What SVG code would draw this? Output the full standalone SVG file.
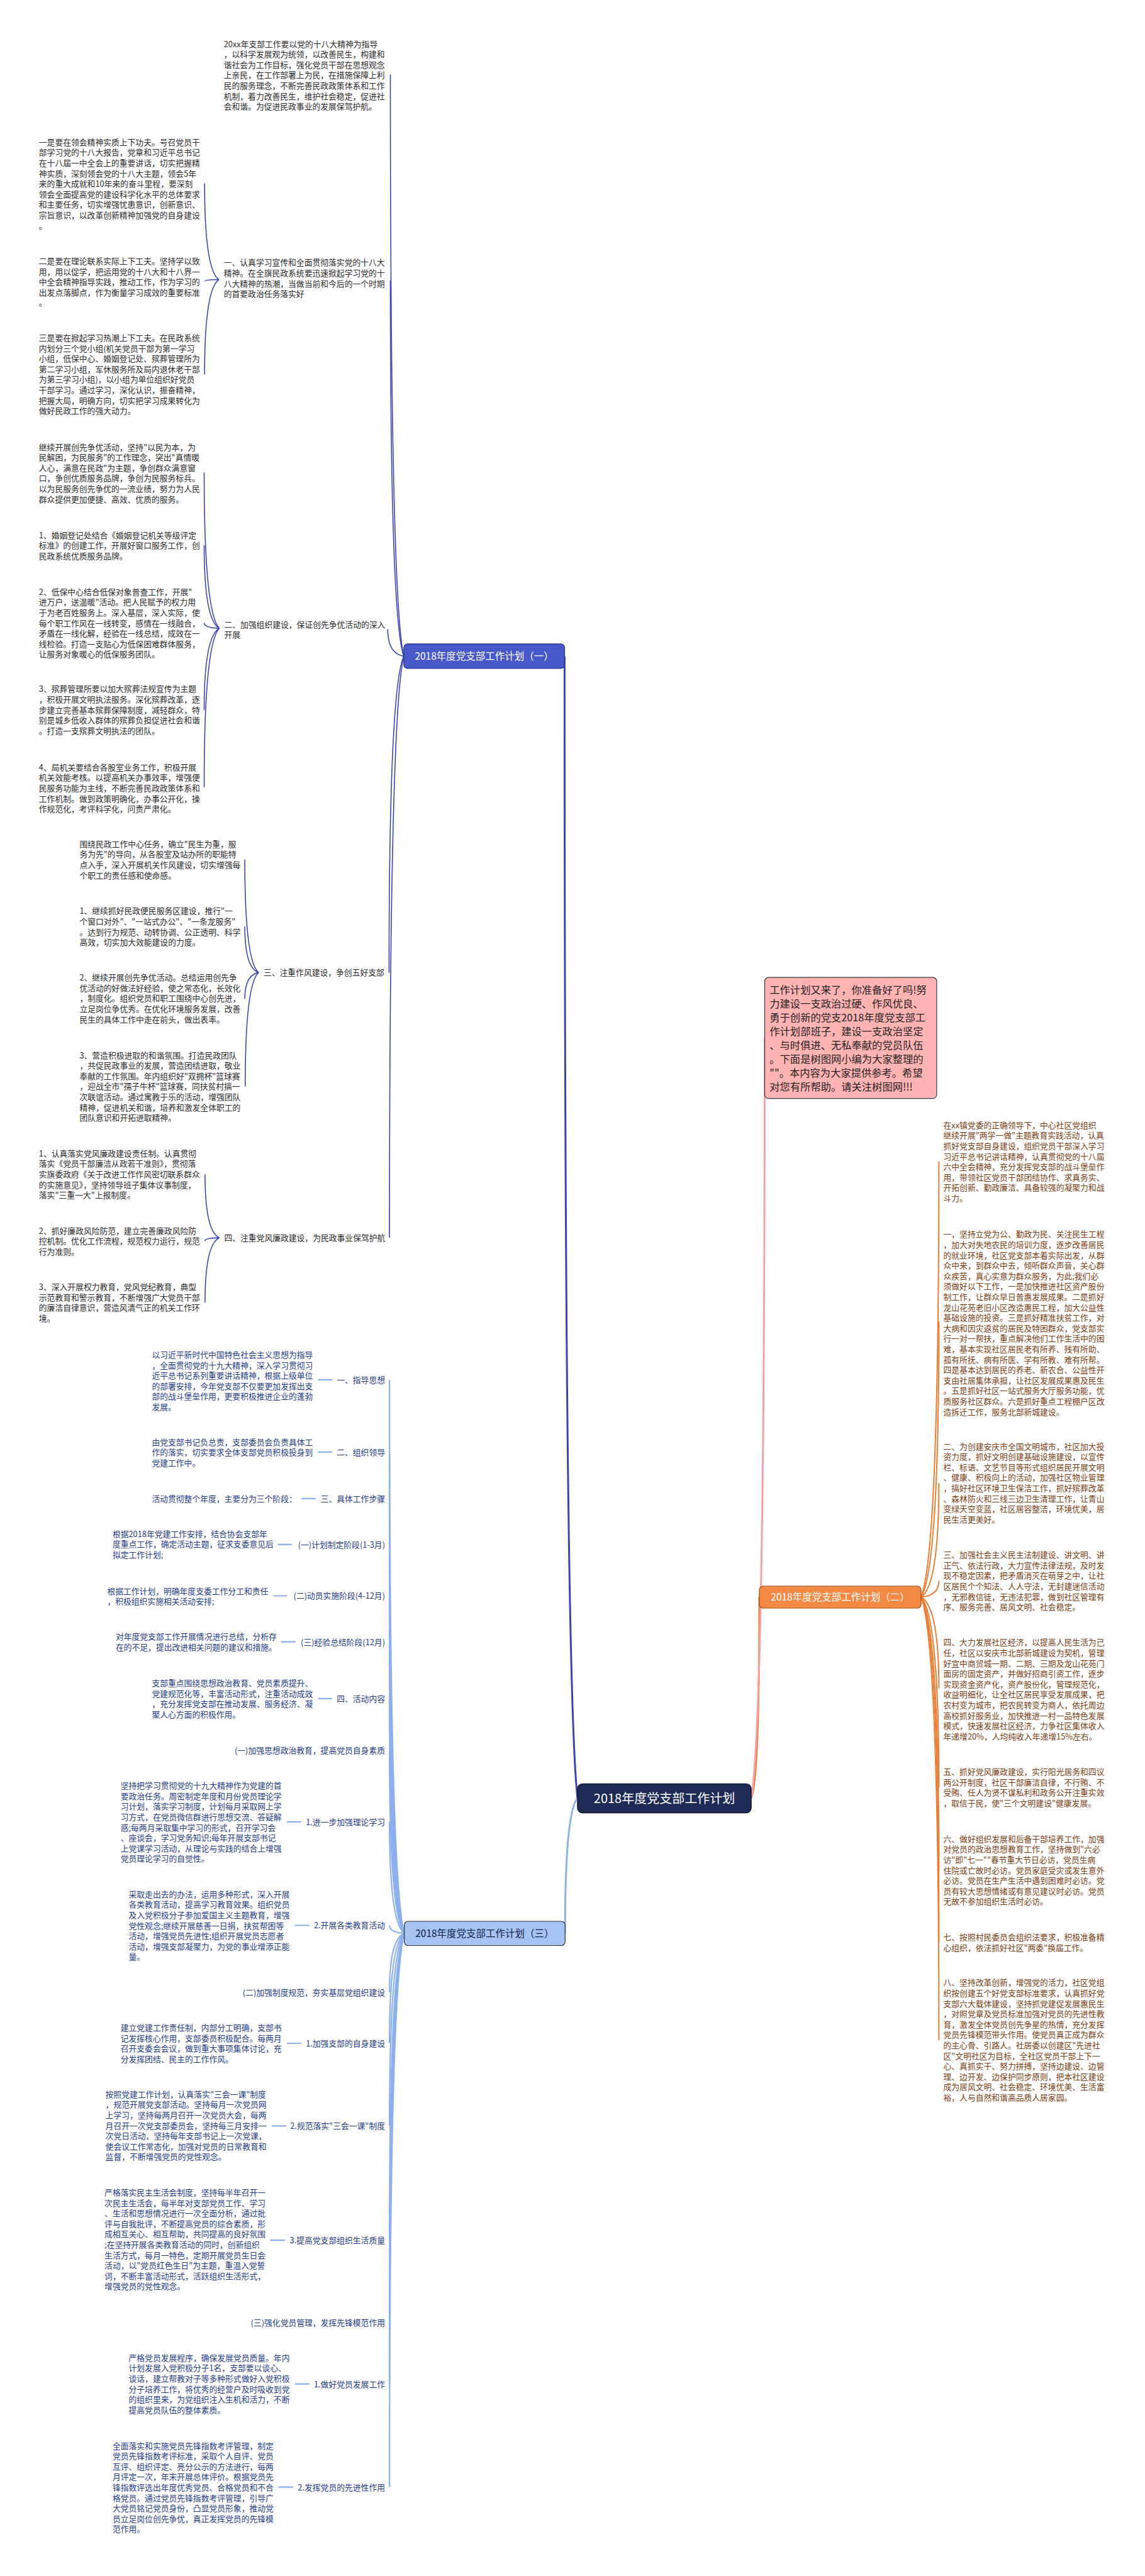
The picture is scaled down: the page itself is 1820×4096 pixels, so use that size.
<svg xmlns="http://www.w3.org/2000/svg" width="1820" height="4096" viewBox="0 0 1820 4096">
<style>
text{font-family:"Noto Sans CJK SC","Noto Sans",sans-serif;}
.t1{font-size:12.8px;fill:#2b2b2b}
.t2{font-size:12.8px;fill:#7a3d12}
.t3{font-size:12.8px;fill:#1f3c88}
.lbl{font-size:12.8px;fill:#1f3c88;text-anchor:end}
.c0{fill:none;stroke-width:3}
.c1{fill:none;stroke:#3a45ae;stroke-width:1.6}
.c2{fill:none;stroke:#ea7d34;stroke-width:2}
.c3{fill:none;stroke:#8db0ec;stroke-width:2.2}
.cp{fill:none;stroke:#f3a3a3;stroke-width:2.4}
.b1{font-size:15.5px;fill:#ffffff;text-anchor:middle}
.b3{font-size:15.5px;fill:#10204a;text-anchor:middle}
</style>
<rect width="1820" height="4096" fill="#ffffff"/>
<g id="connectors">
<path class="c0" stroke="#3a45ae" d="M918,2859.5 Q897.4,2677.9 897.4,1043.5"/>
<path class="c0" stroke="#8db0ec" d="M918,2859.5 Q898.2,2881 898.2,3074"/>
<path class="c0" stroke="#ea7d34" d="M1194,2859.5 Q1207,2827.5 1207,2539.5"/>
<path class="c0" stroke="#f3a3a3" d="M1194,2859.5 Q1215.5,2738.6 1215.5,1650.4"/>
<path class="c1" d="M641.8,1043.5 Q620.5,951 620.5,118.6"/>
<path class="c1" d="M641.8,1043.5 Q620.5,983.7 620.5,445.9"/>
<path class="c1" d="M641.8,1043.5 Q616.3,1039.2 616.3,1000.4"/>
<path class="c1" d="M641.8,1043.5 Q618.4,1093.8 618.4,1546.4"/>
<path class="c1" d="M641.8,1043.5 Q619.1,1136 619.1,1968.1"/>
<path class="c1" d="M347.9,444.5 Q325.2,429.2 325.2,291.8"/>
<path class="c1" d="M347.9,444.5 Q325.2,444.8 325.2,447.3"/>
<path class="c1" d="M347.9,444.5 Q325.2,459.6 325.2,595"/>
<path class="c1" d="M348.6,999 Q324.5,974.2 324.5,751.2"/>
<path class="c1" d="M348.6,999 Q324.5,985.8 324.5,866.9"/>
<path class="c1" d="M348.6,999 Q324.5,998.2 324.5,990.5"/>
<path class="c1" d="M348.6,999 Q324.5,1012 324.5,1128.9"/>
<path class="c1" d="M348.6,999 Q324.5,1024.3 324.5,1251.7"/>
<path class="c1" d="M411.1,1546.4 Q389.1,1528.4 389.1,1366.8"/>
<path class="c1" d="M411.1,1546.4 Q389.1,1539.1 389.1,1473.3"/>
<path class="c1" d="M411.1,1546.4 Q389.1,1550.6 389.1,1588.3"/>
<path class="c1" d="M411.1,1546.4 Q389.8,1564.5 389.8,1727.4"/>
<path class="c1" d="M348.6,1968.1 Q325.9,1958 325.9,1867.3"/>
<path class="c1" d="M348.6,1968.1 Q325.9,1968.6 325.9,1973.1"/>
<path class="c1" d="M348.6,1968.1 Q325.9,1978.4 325.9,2071.1"/>
<path class="c2" d="M1464,2539.5 Q1492.4,2470.2 1492.4,1846.7"/>
<path class="c2" d="M1464,2539.5 Q1492.4,2495.7 1492.4,2101.6"/>
<path class="c2" d="M1464,2539.5 Q1492.4,2521.3 1492.4,2357.9"/>
<path class="c2" d="M1464,2539.5 Q1492.4,2536.9 1492.4,2513.4"/>
<path class="c2" d="M1464,2539.5 Q1492.4,2554 1492.4,2684.5"/>
<path class="c2" d="M1464,2539.5 Q1492.4,2569.8 1492.4,2842.1"/>
<path class="c2" d="M1464,2539.5 Q1492.4,2582.9 1492.4,2973.5"/>
<path class="c2" d="M1464,2539.5 Q1492.4,2594.4 1492.4,3088.5"/>
<path class="c2" d="M1464,2539.5 Q1492.4,2610 1492.4,3244"/>
<path class="c3" d="M642.6,3074 Q619.1,2986 619.1,2193.9"/>
<path class="c3" d="M642.6,3074 Q619.1,2997.5 619.1,2308.9"/>
<path class="c3" d="M642.6,3074 Q619.1,3004.9 619.1,2382.8"/>
<path class="c3" d="M642.6,3074 Q619.1,3012.2 619.1,2455.9"/>
<path class="c3" d="M642.6,3074 Q619.1,3020.4 619.1,2537.5"/>
<path class="c3" d="M642.6,3074 Q619.1,3027.7 619.1,2610.7"/>
<path class="c3" d="M642.6,3074 Q619.1,3036.7 619.1,2700.8"/>
<path class="c3" d="M642.6,3074 Q619.1,3044.9 619.1,2782.8"/>
<path class="c3" d="M642.6,3074 Q619.1,3056.3 619.1,2896.8"/>
<path class="c3" d="M642.6,3074 Q619.1,3072.8 619.1,3061.5"/>
<path class="c3" d="M642.6,3074 Q619.1,3083.4 619.1,3168"/>
<path class="c3" d="M642.6,3074 Q619.1,3091.5 619.1,3249"/>
<path class="c3" d="M642.6,3074 Q619.1,3104.6 619.1,3380.3"/>
<path class="c3" d="M642.6,3074 Q619.1,3122.8 619.1,3562.1"/>
<path class="c3" d="M642.6,3074 Q619.1,3135.9 619.1,3692.7"/>
<path class="c3" d="M642.6,3074 Q619.1,3145.7 619.1,3790.7"/>
<path class="c3" d="M642.6,3074 Q619.1,3162.1 619.1,3954.7"/>
<path class="c3" d="M505.5,2193.9 H528.2 M505.5,2308.9 H528.2 M479.3,2382.8 H502 M441.6,2455.9 H464.3 M434.5,2537.5 H456.5 M446.6,2610.7 H470 M505.5,2700.8 H528.2 M455.8,2896.8 H478.5 M468.6,3061.5 H492 M455.8,3249 H478.5 M431.7,3380.3 H455.1 M429.6,3562.1 H453 M468.6,3790.7 H492 M442.3,3954.7 H465.8"/>
</g>
<g id="center">
<rect x="918" y="2836.5" width="276" height="46" rx="8" fill="#1e2b55" stroke="#0f1730" stroke-width="1.5"/>
<text x="1056" y="2867.1" style="font-size:20px;fill:#ffffff;text-anchor:middle">2018年度党支部工作计划</text>
</g>
<g id="intro">
<rect x="1215.5" y="1554.2" width="273.4" height="192.4" rx="6" fill="#ffb3b3" stroke="#3a3a3a" stroke-width="1.2"/>
<text x="1223.3" y="1579.9" style="font-size:16.3px;fill:#222">
<tspan x="1223.3">工作计划又来了，你准备好了吗!努</tspan>
<tspan x="1223.3" dy="22">力建设一支政治过硬、作风优良、</tspan>
<tspan x="1223.3" dy="22">勇于创新的党支2018年度党支部工</tspan>
<tspan x="1223.3" dy="22">作计划部班子，建设一支政治坚定</tspan>
<tspan x="1223.3" dy="22">、与时俱进、无私奉献的党员队伍</tspan>
<tspan x="1223.3" dy="22">。下面是树图网小编为大家整理的</tspan>
<tspan x="1223.3" dy="22">""。本内容为大家提供参考。希望</tspan>
<tspan x="1223.3" dy="22">对您有所帮助。请关注树图网!!!</tspan>
</text>
</g>
<g id="branch1">
<rect x="641.8" y="1023.8" width="255.6" height="39.1" rx="6" fill="#4759c9" stroke="#2a3590" stroke-width="1.2"/>
<text class="b1" x="769.6" y="1049.2">2018年度党支部工作计划（一）</text>
</g>
<g id="b1-intro">
<text class="t1" x="355.7" y="74.5">
<tspan x="355.7">20xx年支部工作要以党的十八大精神为指导</tspan>
<tspan x="355.7" dy="16.6">，以科学发展观为统领，以改善民生，构建和</tspan>
<tspan x="355.7" dy="16.6">谐社会为工作目标，强化党员干部在思想观念</tspan>
<tspan x="355.7" dy="16.6">上亲民，在工作部署上为民，在措施保障上利</tspan>
<tspan x="355.7" dy="16.6">民的服务理念，不断完善民政政策体系和工作</tspan>
<tspan x="355.7" dy="16.6">机制，着力改善民生，维护社会稳定，促进社</tspan>
<tspan x="355.7" dy="16.6">会和谐。为促进民政事业的发展保驾护航。</tspan>
</text>
</g>
<g id="b1-n1">
<text class="t1" x="355.7" y="422.4">
<tspan x="355.7">一、认真学习宣传和全面贯彻落实党的十八大</tspan>
<tspan x="355.7" dy="16.6">精神。在全旗民政系统要迅速掀起学习党的十</tspan>
<tspan x="355.7" dy="16.6">八大精神的热潮，当做当前和今后的一个时期</tspan>
<tspan x="355.7" dy="16.6">的首要政治任务落实好</tspan>
</text>
</g>
<g id="b1-n1-1">
<text class="t1" x="61.8" y="230.7">
<tspan x="61.8">一是要在领会精神实质上下功夫。号召党员干</tspan>
<tspan x="61.8" dy="16.6">部学习党的十八大报告，党章和习近平总书记</tspan>
<tspan x="61.8" dy="16.6">在十八届一中全会上的重要讲话，切实把握精</tspan>
<tspan x="61.8" dy="16.6">神实质，深刻领会党的十八大主题，领会5年</tspan>
<tspan x="61.8" dy="16.6">来的重大成就和10年来的奋斗里程，要深刻</tspan>
<tspan x="61.8" dy="16.6">领会全面提高党的建设科学化水平的总体要求</tspan>
<tspan x="61.8" dy="16.6">和主要任务，切实增强忧患意识，创新意识、</tspan>
<tspan x="61.8" dy="16.6">宗旨意识，以改革创新精神加强党的自身建设</tspan>
<tspan x="61.8" dy="16.6">。</tspan>
</text>
</g>
<g id="b1-n1-2">
<text class="t1" x="61.8" y="419.9">
<tspan x="61.8">二是要在理论联系实际上下工夫。坚持学以致</tspan>
<tspan x="61.8" dy="16.6">用，用以促学，把运用党的十八大和十八界一</tspan>
<tspan x="61.8" dy="16.6">中全会精神指导实践，推动工作，作为学习的</tspan>
<tspan x="61.8" dy="16.6">出发点落脚点，作为衡量学习成效的重要标准</tspan>
<tspan x="61.8" dy="16.6">。</tspan>
</text>
</g>
<g id="b1-n1-3">
<text class="t1" x="61.8" y="542">
<tspan x="61.8">三是要在掀起学习热潮上下工夫。在民政系统</tspan>
<tspan x="61.8" dy="16.6">内划分三个党小组(机关党员干部为第一学习</tspan>
<tspan x="61.8" dy="16.6">小组，低保中心、婚姻登记处、殡葬管理所为</tspan>
<tspan x="61.8" dy="16.6">第二学习小组，军休服务所及局内退休老干部</tspan>
<tspan x="61.8" dy="16.6">为第三学习小组)，以小组为单位组织好党员</tspan>
<tspan x="61.8" dy="16.6">干部学习。通过学习，深化认识，振奋精神，</tspan>
<tspan x="61.8" dy="16.6">把握大局，明确方向，切实把学习成果转化为</tspan>
<tspan x="61.8" dy="16.6">做好民政工作的强大动力。</tspan>
</text>
</g>
<g id="b1-n2">
<text class="t1" x="356.4" y="997.5">
<tspan x="356.4">二、加强组织建设，保证创先争优活动的深入</tspan>
<tspan x="356.4" dy="16.6">开展</tspan>
</text>
</g>
<g id="b1-n2-1">
<text class="t1" x="61.8" y="715.6">
<tspan x="61.8">继续开展创先争优活动，坚持"以民为本，为</tspan>
<tspan x="61.8" dy="16.6">民解困，为民服务"的工作理念，突出"真情暖</tspan>
<tspan x="61.8" dy="16.6">人心，满意在民政"为主题，争创群众满意窗</tspan>
<tspan x="61.8" dy="16.6">口，争创优质服务品牌，争创为民服务标兵。</tspan>
<tspan x="61.8" dy="16.6">以为民服务创先争优的一流业绩，努力为人民</tspan>
<tspan x="61.8" dy="16.6">群众提供更加便捷、高效、优质的服务。</tspan>
</text>
</g>
<g id="b1-n2-2">
<text class="t1" x="61.8" y="855.5">
<tspan x="61.8">1、婚姻登记处结合《婚姻登记机关等级评定</tspan>
<tspan x="61.8" dy="16.6">标准》的创建工作，开展好窗口服务工作，创</tspan>
<tspan x="61.8" dy="16.6">民政系统优质服务品牌。</tspan>
</text>
</g>
<g id="b1-n2-3">
<text class="t1" x="61.8" y="945.7">
<tspan x="61.8">2、低保中心结合低保对象普查工作，开展"</tspan>
<tspan x="61.8" dy="16.6">进万户，送温暖"活动。把人民赋予的权力用</tspan>
<tspan x="61.8" dy="16.6">于为老百姓服务上。深入基层，深入实际，使</tspan>
<tspan x="61.8" dy="16.6">每个职工作风在一线转变，感情在一线融合，</tspan>
<tspan x="61.8" dy="16.6">矛盾在一线化解，经验在一线总结，成效在一</tspan>
<tspan x="61.8" dy="16.6">线检验。打造一支贴心为低保困难群体服务，</tspan>
<tspan x="61.8" dy="16.6">让服务对象暖心的低保服务团队。</tspan>
</text>
</g>
<g id="b1-n2-4">
<text class="t1" x="61.8" y="1100.4">
<tspan x="61.8">3、殡葬管理所要以加大殡葬法规宣传为主题</tspan>
<tspan x="61.8" dy="16.6">，积极开展文明执法服务。深化殡葬改革，逐</tspan>
<tspan x="61.8" dy="16.6">步建立完善基本殡葬保障制度，减轻群众，特</tspan>
<tspan x="61.8" dy="16.6">别是城乡低收入群体的殡葬负担促进社会和谐</tspan>
<tspan x="61.8" dy="16.6">。打造一支殡葬文明执法的团队。</tspan>
</text>
</g>
<g id="b1-n2-5">
<text class="t1" x="61.8" y="1224.7">
<tspan x="61.8">4、局机关要结合各股室业务工作，积极开展</tspan>
<tspan x="61.8" dy="16.6">机关效能考核。以提高机关办事效率，增强便</tspan>
<tspan x="61.8" dy="16.6">民服务功能为主线，不断完善民政政策体系和</tspan>
<tspan x="61.8" dy="16.6">工作机制。做到政策明确化，办事公开化，操</tspan>
<tspan x="61.8" dy="16.6">作规范化，考评科学化，问责严肃化。</tspan>
</text>
</g>
<g id="b1-n3">
<text class="t1" x="418.9" y="1551.3">三、注重作风建设，争创五好支部</text>
</g>
<g id="b1-n3-1">
<text class="t1" x="126.4" y="1346.8">
<tspan x="126.4">围绕民政工作中心任务，确立"民生为重，服</tspan>
<tspan x="126.4" dy="16.6">务为先"的导向，从各股室及站办所的职能特</tspan>
<tspan x="126.4" dy="16.6">点入手，深入开展机关作风建设，切实增强每</tspan>
<tspan x="126.4" dy="16.6">个职工的责任感和使命感。</tspan>
</text>
</g>
<g id="b1-n3-2">
<text class="t1" x="126.4" y="1453.3">
<tspan x="126.4">1、继续抓好民政便民服务区建设，推行"一</tspan>
<tspan x="126.4" dy="16.6">个窗口对外"、"一站式办公"、"一条龙服务"</tspan>
<tspan x="126.4" dy="16.6">。达到行为规范、动转协调、公正透明、科学</tspan>
<tspan x="126.4" dy="16.6">高效，切实加大效能建设的力度。</tspan>
</text>
</g>
<g id="b1-n3-3">
<text class="t1" x="126.4" y="1559.1">
<tspan x="126.4">2、继续开展创先争优活动。总结运用创先争</tspan>
<tspan x="126.4" dy="16.6">优活动的好做法好经验，使之常态化，长效化</tspan>
<tspan x="126.4" dy="16.6">，制度化。组织党员和职工围绕中心创先进，</tspan>
<tspan x="126.4" dy="16.6">立足岗位争优秀。在优化环境服务发展，改善</tspan>
<tspan x="126.4" dy="16.6">民生的具体工作中走在前头，做出表率。</tspan>
</text>
</g>
<g id="b1-n3-4">
<text class="t1" x="126.4" y="1682.6">
<tspan x="126.4">3、营造积极进取的和谐氛围。打造民政团队</tspan>
<tspan x="126.4" dy="16.6">，共促民政事业的发展，营造团结进取，敬业</tspan>
<tspan x="126.4" dy="16.6">奉献的工作氛围。年内组织好"双拥杯"篮球赛</tspan>
<tspan x="126.4" dy="16.6">，迎战全市"孺子牛杯"篮球赛，同扶贫村搞一</tspan>
<tspan x="126.4" dy="16.6">次联谊活动。通过寓教于乐的活动，增强团队</tspan>
<tspan x="126.4" dy="16.6">精神，促进机关和谐，培养和激发全体职工的</tspan>
<tspan x="126.4" dy="16.6">团队意识和开拓进取精神。</tspan>
</text>
</g>
<g id="b1-n4">
<text class="t1" x="356.4" y="1973">四、注重党风廉政建设，为民政事业保驾护航</text>
</g>
<g id="b1-n4-1">
<text class="t1" x="61.8" y="1838.8">
<tspan x="61.8">1、认真落实党风廉政建设责任制。认真贯彻</tspan>
<tspan x="61.8" dy="16.6">落实《党员干部廉洁从政若干准则》，贯彻落</tspan>
<tspan x="61.8" dy="16.6">实旗委政府《关于改进工作作风密切联系群众</tspan>
<tspan x="61.8" dy="16.6">的实施意见》，坚持领导班子集体议事制度，</tspan>
<tspan x="61.8" dy="16.6">落实"三重一大"上报制度。</tspan>
</text>
</g>
<g id="b1-n4-2">
<text class="t1" x="61.8" y="1961.7">
<tspan x="61.8">2、抓好廉政风险防范，建立完善廉政风险防</tspan>
<tspan x="61.8" dy="16.6">控机制。优化工作流程，规范权力运行，规范</tspan>
<tspan x="61.8" dy="16.6">行为准则。</tspan>
</text>
</g>
<g id="b1-n4-3">
<text class="t1" x="61.8" y="2051.1">
<tspan x="61.8">3、深入开展权力教育，党风党纪教育，典型</tspan>
<tspan x="61.8" dy="16.6">示范教育和警示教育，不断增强广大党员干部</tspan>
<tspan x="61.8" dy="16.6">的廉洁自律意识，营造风清气正的机关工作环</tspan>
<tspan x="61.8" dy="16.6">境。</tspan>
</text>
</g>
<g id="branch2">
<rect x="1207" y="2522" width="257" height="35" rx="6" fill="#f28a45" stroke="#a04a10" stroke-width="1.2"/>
<text class="b1" x="1335.5" y="2545.4">2018年度党支部工作计划（二）</text>
</g>
<g id="b2-1">
<text class="t2" x="1499.5" y="1793.7">
<tspan x="1499.5">在xx镇党委的正确领导下，中心社区党组织</tspan>
<tspan x="1499.5" dy="16.6">继续开展"两学一做"主题教育实践活动，认真</tspan>
<tspan x="1499.5" dy="16.6">抓好党支部自身建设，组织党员干部深入学习</tspan>
<tspan x="1499.5" dy="16.6">习近平总书记讲话精神，认真贯彻党的十八届</tspan>
<tspan x="1499.5" dy="16.6">六中全会精神，充分发挥党支部的战斗堡垒作</tspan>
<tspan x="1499.5" dy="16.6">用，带领社区党员干部团结协作、求真务实、</tspan>
<tspan x="1499.5" dy="16.6">开拓创新、勤政廉洁、具备较强的凝聚力和战</tspan>
<tspan x="1499.5" dy="16.6">斗力。</tspan>
</text>
</g>
<g id="b2-2">
<text class="t2" x="1499.5" y="1967.3">
<tspan x="1499.5">一，坚持立党为公、勤政为民、关注民生工程</tspan>
<tspan x="1499.5" dy="16.6">，加大对失地农民的培训力度，逐步改善居民</tspan>
<tspan x="1499.5" dy="16.6">的就业环境，社区党支部本着实际出发，从群</tspan>
<tspan x="1499.5" dy="16.6">众中来，到群众中去，倾听群众声音，关心群</tspan>
<tspan x="1499.5" dy="16.6">众疾苦，真心实意为群众服务，为此;我们必</tspan>
<tspan x="1499.5" dy="16.6">须做好以下工作，一是加快推进社区资产股份</tspan>
<tspan x="1499.5" dy="16.6">制工作，让群众早日普惠发展成果。二是抓好</tspan>
<tspan x="1499.5" dy="16.6">龙山花苑老旧小区改造惠民工程，加大公益性</tspan>
<tspan x="1499.5" dy="16.6">基础设施的投资。三是抓好精准扶贫工作，对</tspan>
<tspan x="1499.5" dy="16.6">大病和因灾返贫的居民及特困群众，党支部实</tspan>
<tspan x="1499.5" dy="16.6">行一对一帮扶，重点解决他们工作生活中的困</tspan>
<tspan x="1499.5" dy="16.6">难，基本实现社区居民老有所养、残有所助、</tspan>
<tspan x="1499.5" dy="16.6">孤有所抚、病有所医、学有所教、难有所帮。</tspan>
<tspan x="1499.5" dy="16.6">四是基本达到居民的养老、新农合、公益性开</tspan>
<tspan x="1499.5" dy="16.6">支由社居集体承担，让社区发展成果惠及民生</tspan>
<tspan x="1499.5" dy="16.6">。五是抓好社区一站式服务大厅服务功能，优</tspan>
<tspan x="1499.5" dy="16.6">质服务社区群众。六是抓好重点工程棚户区改</tspan>
<tspan x="1499.5" dy="16.6">造拆迁工作，服务北部新城建设。</tspan>
</text>
</g>
<g id="b2-3">
<text class="t2" x="1499.5" y="2304.6">
<tspan x="1499.5">二、为创建安庆市全国文明城市，社区加大投</tspan>
<tspan x="1499.5" dy="16.6">资力度，抓好文明创建基础设施建设，以宣传</tspan>
<tspan x="1499.5" dy="16.6">栏、标语、文艺节目等形式组织居民开展文明</tspan>
<tspan x="1499.5" dy="16.6">、健康、积极向上的活动，加强社区物业管理</tspan>
<tspan x="1499.5" dy="16.6">，搞好社区环境卫生保洁工作，抓好殡葬改革</tspan>
<tspan x="1499.5" dy="16.6">、森林防火和三线三边卫生清理工作，让青山</tspan>
<tspan x="1499.5" dy="16.6">变绿天空变蓝，社区居容整洁，环境优美，居</tspan>
<tspan x="1499.5" dy="16.6">民生活更美好。</tspan>
</text>
</g>
<g id="b2-4">
<text class="t2" x="1499.5" y="2477.1">
<tspan x="1499.5">三、加强社会主义民主法制建设、讲文明、讲</tspan>
<tspan x="1499.5" dy="16.6">正气、依法行政，大力宣传法律法规，及时发</tspan>
<tspan x="1499.5" dy="16.6">现不稳定因素，把矛盾消灭在萌芽之中，让社</tspan>
<tspan x="1499.5" dy="16.6">区居民个个知法、人人守法，无封建迷信活动</tspan>
<tspan x="1499.5" dy="16.6">，无邪教信徒，无违法犯罪，做到社区管理有</tspan>
<tspan x="1499.5" dy="16.6">序、服务完善、居风文明、社会稳定。</tspan>
</text>
</g>
<g id="b2-5">
<text class="t2" x="1499.5" y="2616.3">
<tspan x="1499.5">四、大力发展社区经济，以提高人民生活为己</tspan>
<tspan x="1499.5" dy="16.6">任，社区以安庆市北部新城建设为契机，管理</tspan>
<tspan x="1499.5" dy="16.6">好宜中商贸城一期、二期、三期及龙山花苑门</tspan>
<tspan x="1499.5" dy="16.6">面房的固定资产，并做好招商引资工作，逐步</tspan>
<tspan x="1499.5" dy="16.6">实现资金资产化，资产股份化，管理规范化，</tspan>
<tspan x="1499.5" dy="16.6">收益明细化，让全社区居民享受发展成果，把</tspan>
<tspan x="1499.5" dy="16.6">农村变为城市，把农民转变为商人，依托周边</tspan>
<tspan x="1499.5" dy="16.6">高校抓好服务业，加快推进一村一品特色发展</tspan>
<tspan x="1499.5" dy="16.6">模式，快速发展社区经济，力争社区集体收入</tspan>
<tspan x="1499.5" dy="16.6">年递增20%，人均纯收入年递增15%左右。</tspan>
</text>
</g>
<g id="b2-6">
<text class="t2" x="1499.5" y="2822.2">
<tspan x="1499.5">五、抓好党风廉政建设，实行阳光居务和四议</tspan>
<tspan x="1499.5" dy="16.6">两公开制度，社区干部廉洁自律，不行贿、不</tspan>
<tspan x="1499.5" dy="16.6">受贿、任人为贤不谋私利和政务公开注重实效</tspan>
<tspan x="1499.5" dy="16.6">，取信于民，使"三个文明建设"健康发展。</tspan>
</text>
</g>
<g id="b2-7">
<text class="t2" x="1499.5" y="2928.7">
<tspan x="1499.5">六、做好组织发展和后备干部培养工作，加强</tspan>
<tspan x="1499.5" dy="16.6">对党员的政治思想教育工作，坚持做到"六必</tspan>
<tspan x="1499.5" dy="16.6">访"即"七一""春节重大节日必访，党员生病</tspan>
<tspan x="1499.5" dy="16.6">住院或亡故时必访。党员家庭受灾或发生意外</tspan>
<tspan x="1499.5" dy="16.6">必访。党员在生产生活中遇到困难时必访。党</tspan>
<tspan x="1499.5" dy="16.6">员有较大思想情绪或有意见建议时必访。党员</tspan>
<tspan x="1499.5" dy="16.6">无故不参加组织生活时必访。</tspan>
</text>
</g>
<g id="b2-8">
<text class="t2" x="1499.5" y="3084.9">
<tspan x="1499.5">七、按照村民委员会组织法要求，积极准备精</tspan>
<tspan x="1499.5" dy="16.6">心组织，依法抓好社区"两委"换届工作。</tspan>
</text>
</g>
<g id="b2-9">
<text class="t2" x="1499.5" y="3157.3">
<tspan x="1499.5">八、坚持改革创新，增强党的活力，社区党组</tspan>
<tspan x="1499.5" dy="16.6">织按创建五个好党支部标准要求，认真抓好党</tspan>
<tspan x="1499.5" dy="16.6">支部六大载体建设，坚持抓党建促发展惠民生</tspan>
<tspan x="1499.5" dy="16.6">，对照党章及党员标准加强对党员的先进性教</tspan>
<tspan x="1499.5" dy="16.6">育，激发全体党员创先争星的热情，充分发挥</tspan>
<tspan x="1499.5" dy="16.6">党员先锋模范带头作用。使党员真正成为群众</tspan>
<tspan x="1499.5" dy="16.6">的主心骨、引路人。社居委以创建区"先进社</tspan>
<tspan x="1499.5" dy="16.6">区"文明社区为目标，全社区党员干部上下一</tspan>
<tspan x="1499.5" dy="16.6">心、真抓实干、努力拼搏，坚持边建设、边管</tspan>
<tspan x="1499.5" dy="16.6">理、边开发、边保护同步原则，把本社区建设</tspan>
<tspan x="1499.5" dy="16.6">成为居风文明、社会稳定、环境优美、生活富</tspan>
<tspan x="1499.5" dy="16.6">裕，人与自然和谐高品质人居家园。</tspan>
</text>
</g>
<g id="branch3">
<rect x="642.6" y="3055" width="255.6" height="38.5" rx="6" fill="#a7c3f2" stroke="#333333" stroke-width="1.2"/>
<text class="b3" x="770.4" y="3080.1">2018年度党支部工作计划（三）</text>
</g>
<g id="b3-labels">
<text class="lbl" x="612" y="2198.8">一、指导思想</text>
<text class="lbl" x="612" y="2313.8">二、组织领导</text>
<text class="lbl" x="612" y="2387.7">三、具体工作步骤</text>
<text class="lbl" x="612" y="2460.8">(一)计划制定阶段(1-3月)</text>
<text class="lbl" x="612" y="2542.4">(二)动员实施阶段(4-12月)</text>
<text class="lbl" x="612" y="2615.6">(三)经验总结阶段(12月)</text>
<text class="lbl" x="612" y="2705.7">四、活动内容</text>
<text class="lbl" x="612" y="2787.7">(一)加强思想政治教育，提高党员自身素质</text>
<text class="lbl" x="612" y="2901.7">1.进一步加强理论学习</text>
<text class="lbl" x="612" y="3066.4">2.开展各类教育活动</text>
<text class="lbl" x="612" y="3172.9">(二)加强制度规范，夯实基层党组织建设</text>
<text class="lbl" x="612" y="3253.9">1.加强支部的自身建设</text>
<text class="lbl" x="612" y="3385.2">2.规范落实"三会一课"制度</text>
<text class="lbl" x="612" y="3567">3.提高党支部组织生活质量</text>
<text class="lbl" x="612" y="3697.6">(三)强化党员管理，发挥先锋模范作用</text>
<text class="lbl" x="612" y="3795.6">1.做好党员发展工作</text>
<text class="lbl" x="612" y="3959.6">2.发挥党员的先进性作用</text>
</g>
<g id="b3-leaf1">
<text class="t3" x="241.4" y="2159">
<tspan x="241.4">以习近平新时代中国特色社会主义思想为指导</tspan>
<tspan x="241.4" dy="16.6">，全面贯彻党的十九大精神，深入学习贯彻习</tspan>
<tspan x="241.4" dy="16.6">近平总书记系列重要讲话精神，根据上级单位</tspan>
<tspan x="241.4" dy="16.6">的部署安排，今年党支部不仅要更加发挥出支</tspan>
<tspan x="241.4" dy="16.6">部的战斗堡垒作用，更要积极推进企业的蓬勃</tspan>
<tspan x="241.4" dy="16.6">发展。</tspan>
</text>
</g>
<g id="b3-leaf2">
<text class="t3" x="241.4" y="2297.5">
<tspan x="241.4">由党支部书记负总责，支部委员会负责具体工</tspan>
<tspan x="241.4" dy="16.6">作的落实，切实要求全体支部党员积极投身到</tspan>
<tspan x="241.4" dy="16.6">党建工作中。</tspan>
</text>
</g>
<g id="b3-leaf3">
<text class="t3" x="241.4" y="2387.7">活动贯彻整个年度，主要分为三个阶段：</text>
</g>
<g id="b3-leaf4">
<text class="t3" x="178.9" y="2443.8">
<tspan x="178.9">根据2018年党建工作安排，结合协会支部年</tspan>
<tspan x="178.9" dy="16.6">度重点工作，确定活动主题，征求支委意见后</tspan>
<tspan x="178.9" dy="16.6">拟定工作计划;</tspan>
</text>
</g>
<g id="b3-leaf5">
<text class="t3" x="170.4" y="2534.6">
<tspan x="170.4">根据工作计划，明确年度支委工作分工和责任</tspan>
<tspan x="170.4" dy="16.6">，积极组织实施相关活动安排;</tspan>
</text>
</g>
<g id="b3-leaf6">
<text class="t3" x="183.9" y="2607.1">
<tspan x="183.9">对年度党支部工作开展情况进行总结，分析存</tspan>
<tspan x="183.9" dy="16.6">在的不足，提出改进相关问题的建议和措施。</tspan>
</text>
</g>
<g id="b3-leaf7">
<text class="t3" x="241.4" y="2680.9">
<tspan x="241.4">支部重点围绕思想政治教育、党员素质提升、</tspan>
<tspan x="241.4" dy="16.6">党建规范化等，丰富活动形式，注重活动成效</tspan>
<tspan x="241.4" dy="16.6">，充分发挥党支部在推动发展、服务经济、凝</tspan>
<tspan x="241.4" dy="16.6">聚人心方面的积极作用。</tspan>
</text>
</g>
<g id="b3-leaf8">
<text class="t3" x="191.7" y="2844.2">
<tspan x="191.7">坚持把学习贯彻党的十九大精神作为党建的首</tspan>
<tspan x="191.7" dy="16.6">要政治任务。周密制定年度和月份党员理论学</tspan>
<tspan x="191.7" dy="16.6">习计划，落实学习制度，计划每月采取网上学</tspan>
<tspan x="191.7" dy="16.6">习方式，在党员微信群进行思想交流、答疑解</tspan>
<tspan x="191.7" dy="16.6">惑;每两月采取集中学习的形式，召开学习会</tspan>
<tspan x="191.7" dy="16.6">、座谈会，学习党务知识;每年开展支部书记</tspan>
<tspan x="191.7" dy="16.6">上党课学习活动，从理论与实践的结合上增强</tspan>
<tspan x="191.7" dy="16.6">党员理论学习的自觉性。</tspan>
</text>
</g>
<g id="b3-leaf9">
<text class="t3" x="204.5" y="3016.7">
<tspan x="204.5">采取走出去的办法，运用多种形式，深入开展</tspan>
<tspan x="204.5" dy="16.6">各类教育活动，提高学习教育效果。组织党员</tspan>
<tspan x="204.5" dy="16.6">及入党积极分子参加爱国主义主题教育，增强</tspan>
<tspan x="204.5" dy="16.6">党性观念;继续开展慈善一日捐，扶贫帮困等</tspan>
<tspan x="204.5" dy="16.6">活动，增强党员先进性;组织开展党员志愿者</tspan>
<tspan x="204.5" dy="16.6">活动，增强支部凝聚力，为党的事业增添正能</tspan>
<tspan x="204.5" dy="16.6">量。</tspan>
</text>
</g>
<g id="b3-leaf10">
<text class="t3" x="191.7" y="3229">
<tspan x="191.7">建立党建工作责任制，内部分工明确，支部书</tspan>
<tspan x="191.7" dy="16.6">记发挥核心作用，支部委员积极配合。每两月</tspan>
<tspan x="191.7" dy="16.6">召开支委会会议，做到重大事项集体讨论，充</tspan>
<tspan x="191.7" dy="16.6">分发挥团结、民主的工作作风。</tspan>
</text>
</g>
<g id="b3-leaf11">
<text class="t3" x="167.6" y="3334.8">
<tspan x="167.6">按照党建工作计划，认真落实"三会一课"制度</tspan>
<tspan x="167.6" dy="16.6">，规范开展党支部活动。坚持每月一次党员网</tspan>
<tspan x="167.6" dy="16.6">上学习，坚持每两月召开一次党员大会，每两</tspan>
<tspan x="167.6" dy="16.6">月召开一次党支部委员会，坚持每三月安排一</tspan>
<tspan x="167.6" dy="16.6">次党日活动，坚持每年支部书记上一次党课，</tspan>
<tspan x="167.6" dy="16.6">使会议工作常态化，加强对党员的日常教育和</tspan>
<tspan x="167.6" dy="16.6">监督，不断增强党员的党性观念。</tspan>
</text>
</g>
<g id="b3-leaf12">
<text class="t3" x="166.1" y="3491">
<tspan x="166.1">严格落实民主生活会制度，坚持每半年召开一</tspan>
<tspan x="166.1" dy="16.6">次民主生活会，每半年对支部党员工作、学习</tspan>
<tspan x="166.1" dy="16.6">、生活和思想情况进行一次全面分析，通过批</tspan>
<tspan x="166.1" dy="16.6">评与自我批评，不断提高党员的综合素质，形</tspan>
<tspan x="166.1" dy="16.6">成相互关心、相互帮助，共同提高的良好氛围</tspan>
<tspan x="166.1" dy="16.6">;在坚持开展各类教育活动的同时，创新组织</tspan>
<tspan x="166.1" dy="16.6">生活方式，每月一特色，定期开展党员生日会</tspan>
<tspan x="166.1" dy="16.6">活动，以"党员红色生日"为主题，重温入党誓</tspan>
<tspan x="166.1" dy="16.6">词，不断丰富活动形式，活跃组织生活形式，</tspan>
<tspan x="166.1" dy="16.6">增强党员的党性观念。</tspan>
</text>
</g>
<g id="b3-leaf13">
<text class="t3" x="204.5" y="3753.7">
<tspan x="204.5">严格党员发展程序，确保发展党员质量。年内</tspan>
<tspan x="204.5" dy="16.6">计划发展入党积极分子1名，支部要以谈心、</tspan>
<tspan x="204.5" dy="16.6">谈话，建立帮教对子等多种形式做好入党积极</tspan>
<tspan x="204.5" dy="16.6">分子培养工作，将优秀的经营户及时吸收到党</tspan>
<tspan x="204.5" dy="16.6">的组织里来，为党组织注入生机和活力，不断</tspan>
<tspan x="204.5" dy="16.6">提高党员队伍的整体素质。</tspan>
</text>
</g>
<g id="b3-leaf14">
<text class="t3" x="178.9" y="3893.6">
<tspan x="178.9">全面落实和实施党员先锋指数考评管理，制定</tspan>
<tspan x="178.9" dy="16.6">党员先锋指数考评标准，采取个人自评、党员</tspan>
<tspan x="178.9" dy="16.6">互评、组织评定、亮分公示的方法进行，每两</tspan>
<tspan x="178.9" dy="16.6">月评定一次，年末开展总体评价。根据党员先</tspan>
<tspan x="178.9" dy="16.6">锋指数评选出年度优秀党员、合格党员和不合</tspan>
<tspan x="178.9" dy="16.6">格党员。通过党员先锋指数考评管理，引导广</tspan>
<tspan x="178.9" dy="16.6">大党员铭记党员身份，凸显党员形象，推动党</tspan>
<tspan x="178.9" dy="16.6">员立足岗位创先争优，真正发挥党员的先锋模</tspan>
<tspan x="178.9" dy="16.6">范作用。</tspan>
</text>
</g>
</svg>
